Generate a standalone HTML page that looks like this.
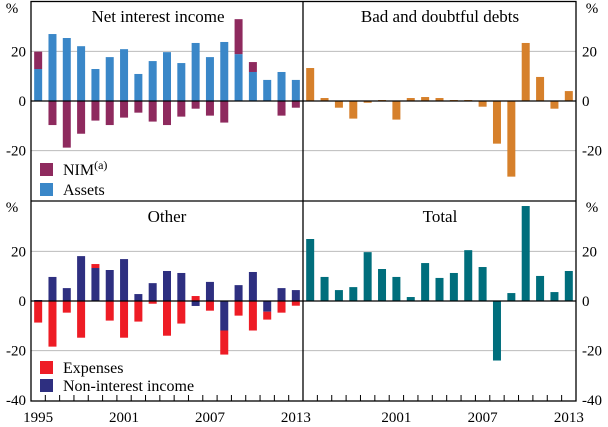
<!DOCTYPE html>
<html><head><meta charset="utf-8"><style>
body{margin:0;background:#fff}
svg{display:block}
text{font-family:"Liberation Serif","DejaVu Serif",serif}
</style></head><body>
<svg id="c" width="608" height="427" viewBox="0 0 608 427" font-family="Liberation Serif, serif"></svg>
<script>
const years=[1995,1996,1997,1998,1999,2000,2001,2002,2003,2004,2005,2006,2007,2008,2009,2010,2011,2012,2013];
const nim=[7,-9.7,-18.8,-13.2,-7.9,-9.7,-6.7,-4.7,-8.3,-9.7,-6.3,-3.1,-5.9,-8.7,14.1,4,0,-5.9,-2.7];
const assets=[12.9,27,25.4,22.1,12.9,17.7,20.9,10.9,16.1,19.7,15.3,23.4,17.7,23.8,18.9,11.7,8.5,11.7,8.5];
const nonInterest=[0.4,9.7,5.2,18.1,13.3,12.5,16.9,2.8,7.2,12.1,11.3,-2,7.7,-11.9,6.4,11.7,-4.3,5.2,4.4];
const expenses=[-8.7,-18.4,-4.7,-14.8,1.6,-7.9,-14.8,-8.3,-1.1,-14,-9.1,2,-3.9,-9.7,-5.9,-11.9,-3.2,-4.7,-1.9];
const badDebts=[13.3,1.2,-2.7,-7.1,-0.7,0.4,-7.5,1.2,1.6,1.2,0.4,0.4,-2.3,-17.2,-30.5,23.4,9.7,-3.1,4];
const total=[25,9.7,4.4,5.6,19.7,12.9,9.7,1.6,15.3,9.3,11.3,20.5,13.7,-24,3.2,38.3,10.1,3.6,12.1];
const yTicksTop=[20,0,-20];
const yTicksBottom=[20,0,-20,-40];
const xLabelsLeft=[1995,2001,2007,2013];
const xLabelsRight=[2001,2007,2013];

const svg=document.getElementById('c');
const NS='http://www.w3.org/2000/svg';
function mk(tag,attrs,parent){const e=document.createElementNS(NS,tag);for(const k in attrs)e.setAttribute(k,attrs[k]);(parent||svg).appendChild(e);return e;}
const L=31,M=303,R=576,T=1.5,MID=201,B=401;
const K=2.48;
function yTop(v){return 101-v*K;}
function yBot(v){return 301-v*K;}
function xSlot(x0,x1,i){const w=(x1-x0)/years.length;return x0+w*(i+0.5);}
[[L,R,yTop],[L,R,yBot]].forEach(([a,b,f])=>{[20,-20].forEach(v=>{const g=mk('line',{x1:a,x2:b,y1:f(v),y2:f(v),stroke:'#bbb','stroke-width':1});

});});
function bar(x,y0,y1,color,name){const r=mk('rect',{x:x-4,y:Math.min(y0,y1),width:8,height:Math.abs(y1-y0),fill:color});

}
function stacked(x0,x1,f,a,b,ca,cb,na,nb){
 for(let i=0;i<years.length;i++){const x=xSlot(x0,x1,i);let pos=0,neg=0;
  [[a[i],ca,na],[b[i],cb,nb]].forEach(([v,c,n])=>{if(v>=0){bar(x,f(pos),f(pos+v),c,n+'-'+years[i]);pos+=v;}else{bar(x,f(neg),f(neg+v),c,n+'-'+years[i]);neg+=v;}});}
}
stacked(L,M,yTop,assets,nim,'#3a87c8','#8e2a5e','bar-assets','bar-nim');
stacked(L,M,yBot,nonInterest,expenses,'#2e2f80','#ee1c25','bar-non-interest-income','bar-expenses');
for(let i=0;i<years.length;i++){const x=xSlot(M,R,i);bar(x,yTop(0),yTop(badDebts[i]),'#d6802b','bar-bad-debts-'+years[i]);}
for(let i=0;i<years.length;i++){const x=xSlot(M,R,i);bar(x,yBot(0),yBot(total[i]),'#006e7c','bar-total-'+years[i]);}
[yTop(0),yBot(0)].forEach(y=>{const z=mk('line',{x1:L,x2:R,y1:y,y2:y,stroke:'#000','stroke-width':1.3});

});
const fr=mk('rect',{x:L,y:T,width:R-L,height:B-T,fill:'none',stroke:'#000','stroke-width':1.3});


const d1=mk('line',{x1:L,x2:R,y1:MID,y2:MID,stroke:'#000','stroke-width':1.3});


const d2=mk('line',{x1:M,x2:M,y1:T,y2:B,stroke:'#000','stroke-width':1.3});


[[L,M,xLabelsLeft],[M,R,xLabelsRight]].forEach(([a,b,labs])=>{const w=(b-a)/years.length;for(let i=1;i<years.length;i++){const t=mk('line',{x1:a+w*i,x2:a+w*i,y1:B,y2:B-6,stroke:'#000','stroke-width':1});

}
 labs.forEach(yr=>{const i=years.indexOf(yr);const t=mk('text',{x:xSlot(a,b,i),y:422,'text-anchor':'middle','font-size':15});t.textContent=yr;
 
 });});
function ylab(x,y,txt,anchor,name){const t=mk('text',{x:x,y:y,'text-anchor':anchor,'font-size':15});t.textContent=txt;

}
yTicksTop.forEach(v=>{ylab(26,yTop(v)+5,v,'end','y-tick-label');ylab(582,yTop(v)+5,v,'start','y-tick-label');});
yTicksBottom.forEach(v=>{ylab(26,yBot(v)+5,v,'end','y-tick-label');ylab(582,yBot(v)+5,v,'start','y-tick-label');});
[[12,13],[12,212]].forEach(([x,y])=>{ylab(x,y,'%','middle','y-axis-unit');ylab(592,y,'%','middle','y-axis-unit');});
[['Net interest income',158,'title-net-interest-income'],['Bad and doubtful debts',440,'title-bad-and-doubtful-debts']].forEach(([s,x,n])=>{const t=mk('text',{x:x,y:22,'text-anchor':'middle','font-size':17});t.textContent=s;

});
[['Other',167,'title-other'],['Total',440,'title-total']].forEach(([s,x,n])=>{const t=mk('text',{x:x,y:222,'text-anchor':'middle','font-size':17});t.textContent=s;

});
function leg(y,color,txt,name){const g=mk('g',{});


mk('rect',{x:40,y:y,width:13,height:13,fill:color},g);const t=mk('text',{x:63,y:y+12,'font-size':16},g);t.innerHTML=txt;}
leg(163,'#8e2a5e','NIM<tspan dy="-6" font-size="12">(a)</tspan>','legend-nim');
leg(183,'#3a87c8','Assets','legend-assets');
leg(361,'#ee1c25','Expenses','legend-expenses');
leg(379,'#2e2f80','Non-interest income','legend-non-interest-income');
</script>
</body></html>
